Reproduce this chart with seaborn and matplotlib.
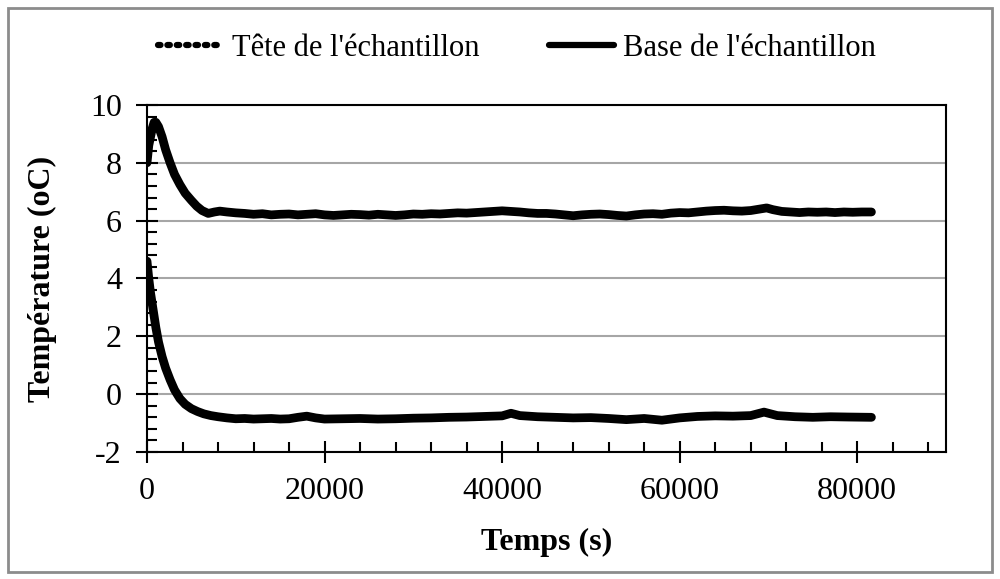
import matplotlib
matplotlib.use("Agg")
import matplotlib.pyplot as plt
from matplotlib.lines import Line2D
from matplotlib.patches import Rectangle
from matplotlib.ticker import MultipleLocator
import numpy as np
import pandas as pd
import seaborn as sns

# ---- data ----
tete_t = [0, 200, 400, 600, 800, 1000, 1300, 1700, 2100, 2600, 3100, 3700, 4300, 5000,
          5600, 6200, 6900, 7600, 8200, 9000, 10000, 11000, 12000, 13000, 14000, 15000,
          16000, 17000, 18000, 19000, 20000, 21000, 22000, 23000, 24000, 25000, 26000,
          27000, 28000, 29000, 30000, 31000, 32000, 33000, 34000, 35000, 36000, 37000,
          38000, 39000, 40000, 41000, 42000, 43000, 44000, 45000, 46000, 47000, 48000,
          49000, 50000, 51000, 52000, 53000, 54000, 55000, 56000, 57000, 58000, 59000,
          60000, 61000, 62000, 63000, 64000, 65000, 66000, 67000, 68000, 69000, 69800,
          70500, 71500, 72500, 73500, 74500, 75500, 76500, 77500, 78500, 79500, 80500, 81600]
tete_T = [8.0, 8.6, 8.9, 9.2, 9.4, 9.4, 9.25, 8.9, 8.45, 8.0, 7.6, 7.25, 6.95, 6.7,
          6.5, 6.35, 6.25, 6.3, 6.33, 6.3, 6.27, 6.25, 6.22, 6.24, 6.2, 6.22,
          6.23, 6.2, 6.22, 6.24, 6.2, 6.18, 6.2, 6.22, 6.21, 6.19, 6.22,
          6.2, 6.18, 6.2, 6.23, 6.22, 6.24, 6.23, 6.25, 6.27, 6.26, 6.28,
          6.3, 6.32, 6.34, 6.32, 6.3, 6.27, 6.25, 6.25, 6.23, 6.2, 6.17,
          6.2, 6.22, 6.23, 6.21, 6.18, 6.16, 6.2, 6.23, 6.24, 6.22, 6.26,
          6.28, 6.27, 6.3, 6.33, 6.35, 6.36, 6.34, 6.33, 6.35, 6.4, 6.44,
          6.38, 6.32, 6.3, 6.28, 6.3, 6.29, 6.3, 6.28, 6.3, 6.29, 6.3, 6.3]

base_t = [0, 200, 400, 700, 1000, 1300, 1700, 2100, 2600, 3100, 3700, 4300, 5000, 5700,
          6400, 7200, 8000, 9000, 10000, 11000, 12000, 13000, 14000, 15000, 16000, 17000,
          18000, 19000, 20000, 22000, 24000, 26000, 28000, 30000, 32000, 34000, 36000,
          38000, 40000, 41000, 42000, 44000, 46000, 48000, 50000, 52000, 54000, 56000,
          58000, 60000, 62000, 64000, 66000, 68000, 69500, 71000, 73000, 75000, 77000,
          79000, 81600]
base_T = [4.6, 4.0, 3.5, 2.9, 2.3, 1.8, 1.3, 0.9, 0.5, 0.15, -0.15, -0.35, -0.5, -0.6,
          -0.68, -0.74, -0.78, -0.82, -0.85, -0.84, -0.86, -0.85, -0.84, -0.86, -0.85, -0.8,
          -0.76, -0.82, -0.86, -0.85, -0.84, -0.86, -0.85, -0.83, -0.82, -0.8, -0.79,
          -0.77, -0.75, -0.66, -0.74, -0.78, -0.8, -0.82, -0.81, -0.84, -0.88, -0.84,
          -0.9, -0.82, -0.77, -0.75, -0.76, -0.74, -0.62, -0.74, -0.78, -0.8, -0.78,
          -0.79, -0.8]

label_tete = "Tête de l'échantillon"
label_base = "Base de l'échantillon"

df = pd.concat([
    pd.DataFrame({"Temps": tete_t, "T": tete_T, "serie": label_tete}),
    pd.DataFrame({"Temps": base_t, "T": base_T, "serie": label_base}),
])

sns.set_theme(style="white")
plt.rcParams["font.family"] = ["Liberation Serif", "DejaVu Serif"]
plt.rcParams["text.color"] = "black"
plt.rcParams["axes.labelcolor"] = "black"
plt.rcParams["xtick.color"] = "black"
plt.rcParams["ytick.color"] = "black"

fig = plt.figure(figsize=(10, 5.79), dpi=100)
ax = fig.add_axes([0.147, 0.2193, 0.799, 0.5994])

sns.lineplot(data=df, x="Temps", y="T", hue="serie",
             palette={label_tete: "black", label_base: "black"},
             linewidth=6.3, ax=ax, legend=False, sort=False,
             solid_capstyle="round", solid_joinstyle="round")

ax.set_xlim(0, 90000)
ax.set_ylim(-2, 10)
ax.xaxis.set_minor_locator(MultipleLocator(4000))
ax.yaxis.set_minor_locator(MultipleLocator(0.4))
ax.set_xticks([0, 20000, 40000, 60000, 80000])
ax.set_xticklabels(["0", "20000", "40000", "60000", "80000"])
ax.set_yticks([-2, 0, 2, 4, 6, 8, 10])
ax.set_yticklabels(["-2", "0", "2", "4", "6", "8", "10"])

ax.tick_params(which="major", direction="inout", length=16, width=1.5,
               color="black", labelcolor="black", labelsize=23, pad=10,
               left=True, bottom=True)
ax.tick_params(which="minor", direction="in", length=7, width=1.5,
               color="black", left=True, bottom=True)
ax.grid(axis="y", which="major", color="#a6a6a6", linewidth=1.5)
ax.grid(axis="x", visible=False)
for s in ax.spines.values():
    s.set_visible(True)
    s.set_color("black")
    s.set_linewidth(1.5)

ax.set_xlabel("Temps (s)", fontsize=23, fontweight="bold", labelpad=16, color="black")
ax.set_ylabel("Température (oC)", fontsize=23, fontweight="bold", labelpad=24, color="black")

handles = [Line2D([0], [0], color="black", lw=4.5, linestyle=(0, (0.4, 1.1)),
                  dash_capstyle="round"),
           Line2D([0], [0], color="black", lw=4.5)]
fig.legend(handles, [label_tete, label_base], loc="center", ncol=2,
           bbox_to_anchor=(0.517, 0.917), frameon=False, fontsize=22,
           handlelength=2.1, handletextpad=0.3, columnspacing=2.3)

fig.patches.append(Rectangle((0.008, 0.012), 0.984, 0.975, transform=fig.transFigure,
                             fill=False, edgecolor="#8c8c8c", linewidth=2))

fig.savefig("out.png", dpi=100, facecolor="white")
